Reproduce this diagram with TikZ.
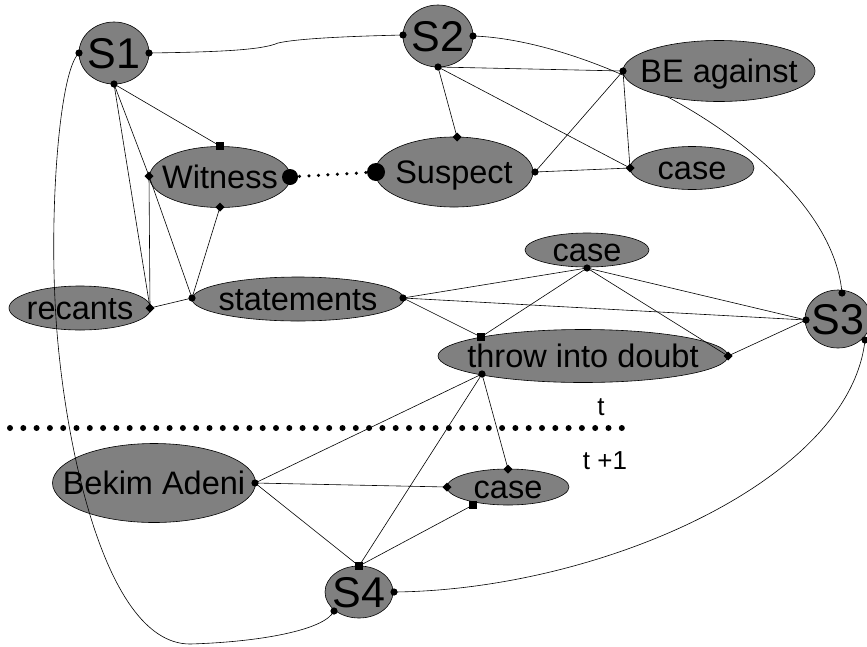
\documentclass[tikz,border=0pt]{standalone}
\usepackage{fontspec}
\setmainfont{Liberation Sans}
\usetikzlibrary{shapes.geometric}
\newcommand{\ctext}[1]{\raisebox{-0.36em}[0pt][0pt]{\makebox[0pt]{#1}}}
\begin{document}
\begin{tikzpicture}[x=1pt,y=-1pt,
  ell/.style={ellipse,draw=black,line width=0.6pt,fill=gray50,inner sep=0pt,outer sep=0pt,font=\fontsize{32.5}{32.5}\selectfont},
  bigell/.style={ell,font=\fontsize{43}{43}\selectfont},
  edge/.style={line width=0.6pt},
]
\definecolor{gray50}{HTML}{808080}
\useasboundingbox (0,0) rectangle (867,646);
% curve S2 -> S3 behind BE against
\coordinate (S2e) at (473,36);
\coordinate (S3n) at (842,293);
\draw[edge] (S2e) .. controls (600,40) and (830,160) .. (S3n);
% nodes
\node[bigell,minimum width=70pt,minimum height=62pt] (S1) at (114,53) {\ctext{S1}};
\node[bigell,minimum width=70pt,minimum height=62pt] (S2) at (438,36) {\ctext{S2}};
\node[ell,minimum width=192pt,minimum height=61pt] (BE) at (719,71) {\ctext{BE against}};
\node[ell,minimum width=141pt,minimum height=61pt] (W) at (220,177) {\ctext{Witness}};
\node[ell,minimum width=158pt,minimum height=70pt] (Su) at (454,172) {\ctext{Suspect}};
\node[ell,minimum width=124pt,minimum height=43pt] (C1) at (692,168) {\ctext{case}};
\node[ell,minimum width=142pt,minimum height=44pt] (R) at (80,308) {\ctext{recants}};
\node[ell,minimum width=212pt,minimum height=44pt] (St) at (298,299) {\ctext{statements}};
\node[ell,minimum width=124pt,minimum height=34pt] (C2) at (587,250) {\ctext{case}};
\node[ell,minimum width=290pt,minimum height=53pt] (T) at (583,356) {\ctext{throw into doubt}};
\node[bigell,minimum width=66pt,minimum height=58pt] (S3) at (838,319) {\ctext{S3}};
\node[ell,minimum width=203pt,minimum height=79pt] (B) at (154,483) {\ctext{Bekim Adeni}};
\node[ell,minimum width=122pt,minimum height=36pt] (C3) at (508,487) {\ctext{case}};
\node[bigell,minimum width=68pt,minimum height=52pt] (S4) at (359,592) {\ctext{S4}};
% port coordinates
\coordinate (S1w) at (79,53);
\coordinate (S1e) at (149,53);
\coordinate (S1s) at (114,84);
\coordinate (S2w) at (403,35);
\coordinate (S2s) at (438,67);
\coordinate (Wn) at (220,146);
\coordinate (Ww) at (149,176);
\coordinate (Ws) at (220,207);
\coordinate (We) at (290,177);
\coordinate (Suw) at (376,172);
\coordinate (Sun) at (457,137);
\coordinate (Sue) at (535,172);
\coordinate (BEw) at (623,71);
\coordinate (C1w) at (630,168);
\coordinate (Re) at (150,308);
\coordinate (Stw) at (192,298);
\coordinate (Ste) at (403,298);
\coordinate (C2s) at (587,268);
\coordinate (Tt) at (481,337);
\coordinate (Tb) at (482,374);
\coordinate (Te) at (728,356);
\coordinate (S3w) at (806,320);
\coordinate (S3se) at (865,340);
\coordinate (Be) at (255,483);
\coordinate (C3n) at (508,469);
\coordinate (C3w) at (447,487);
\coordinate (C3sw) at (473,505);
\coordinate (S4n) at (359,566);
\coordinate (S4e) at (394,592);
\coordinate (S4sw) at (334,611);
% edges
\draw[edge] (S1e) .. controls (220,52) and (262,50) .. (278,43) .. controls (300,38) and (360,36) .. (S2w);
\draw[edge] (S1w) .. controls (60,70) and (50,200) .. (55,300) .. controls (60,420) and (100,644) .. (190,644) .. controls (260,642) and (325,630) .. (S4sw);
\draw[edge] (S1s) -- (Wn);
\draw[edge] (S1s) -- (Ww);
\draw[edge] (S1s) -- (Re);
\draw[edge] (Ww) -- (Re);
\draw[edge] (Ww) -- (Stw);
\draw[edge] (Ws) -- (Stw);
\draw[edge] (Re) -- (Stw);
\draw[line width=3.5pt,line cap=round,dash pattern=on 0pt off 9.5pt] (We) -- (Suw);
\draw[edge] (S2s) -- (Sun);
\draw[edge] (S2s) -- (BEw);
\draw[edge] (S2s) -- (C1w);
\draw[edge] (BEw) -- (Sue);
\draw[edge] (BEw) -- (C1w);
\draw[edge] (Sue) -- (C1w);
\draw[edge] (Ste) -- (C2s);
\draw[edge] (Ste) -- (S3w);
\draw[edge] (Ste) -- (Tt);
\draw[edge] (C2s) -- (Tt);
\draw[edge] (C2s) -- (Te);
\draw[edge] (C2s) -- (S3w);
\draw[edge] (Te) -- (S3w);
\draw[edge] (Tb) -- (Be);
\draw[edge] (Tb) -- (S4n);
\draw[edge] (Tb) -- (C3n);
\draw[edge] (Be) -- (C3w);
\draw[edge] (Be) -- (S4n);
\draw[edge] (S4n) -- (C3sw);
\draw[edge] (S4e) .. controls (600,590) and (850,480) .. (S3se);
% time line
\coordinate (tl) at (10,428);
\coordinate (tr) at (623,428);
\draw[line width=6pt,line cap=round,dash pattern=on 0pt off 13.3pt] (tl) -- (tr);
\node[font=\fontsize{26}{26}\selectfont] (tlab) at (601,407) {t};
\node[font=\fontsize{26}{26}\selectfont] (t1lab) at (605,461) {t +1};
% markers
\foreach \p in {S1w,S1e,S1s,S2w,S2e,S2s,BEw,Sue,Ste,Stw,C2s,Tb,S3w,S3n,S3se,Be,S4e,S4sw}
  \fill (\p) circle (3.6pt);
\foreach \p in {Ww,Ws,Sun,C1w,Re,Te,C3n,C3w}
  \fill (\p) ++(-4.5,0) -- ++(4.5,-4.5) -- ++(4.5,4.5) -- ++(-4.5,4.5) -- cycle;
\foreach \p in {Wn,Tt,C3sw,S4n}
  \fill (\p) ++(-3.6,-3.6) rectangle ++(7.2,7.2);
\fill (We) circle (8pt);
\fill (Suw) circle (9pt);
\end{tikzpicture}
\end{document}
